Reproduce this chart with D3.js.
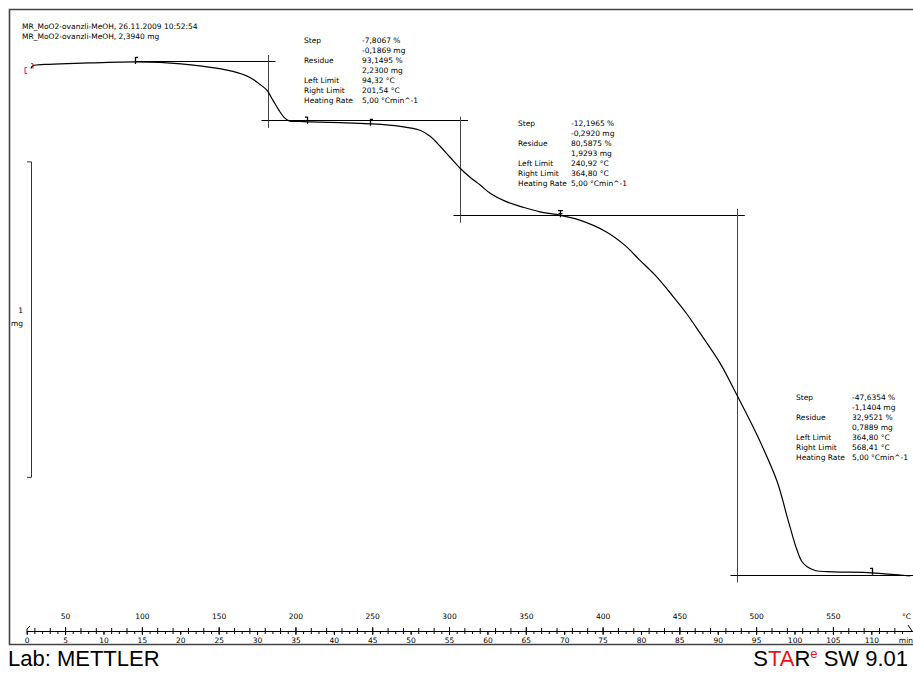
<!DOCTYPE html>
<html>
<head>
<meta charset="utf-8">
<script src="https://cdn.jsdelivr.net/npm/d3@7"></script>
<style>
  body { margin: 0; background: #fff; }
  svg text { font-family: "DejaVu Sans", sans-serif; }
</style>
</head>
<body>
<svg id="chart" width="913" height="673"></svg>
<script>
// --- data ---
const headerLines = [
  "MR_MoO2-ovanzli-MeOH, 26.11.2009 10:52:54",
  "MR_MoO2-ovanzli-MeOH, 2,3940 mg"
];

// sample mass (mg) against temperature (°C)
const curveTemp = [27.8, 29.1, 36.9, 46.7, 66.2, 95.5, 111.8, 137.9, 159.3, 170.4,
  176.9, 181.5, 185.4, 189.3, 192.6, 195.8, 203.0, 209.5, 229.0, 248.6,
  268.1, 281.1, 287.7, 294.2, 300.7, 307.2, 313.7, 320.3, 326.8, 336.5,
  348.1, 359.2, 370.9, 385.2, 402.8, 414.4, 424.2, 435.4, 445.7, 454.9,
  463.4, 476.4, 487.4, 500.5, 513.5, 520.7, 526.5, 529.8, 533.0, 538.4,
  550.1, 575.5, 600.3];
const curveMass = [2.3933, 2.4022, 2.4060, 2.4075, 2.4108, 2.4139, 2.4123, 2.4013, 2.3838, 2.3648,
  2.3427, 2.3237, 2.2921, 2.2604, 2.2383, 2.2272, 2.2256, 2.2240, 2.2215, 2.2177,
  2.2098, 2.1972, 2.1782, 2.1466, 2.1118, 2.0770, 2.0485, 2.0236, 1.9978, 1.9725,
  1.9535, 1.9386, 1.9297, 1.9123, 1.8743, 1.8332, 1.7857, 1.7319, 1.6718, 1.6148,
  1.5547, 1.4598, 1.3585, 1.2320, 1.0860, 0.9630, 0.8680, 0.8300, 0.8142, 0.8016,
  0.7974, 0.7943, 0.7842];

// step evaluations
const stepPct     = [-7.8067, -12.1965, -47.6354];
const stepMg      = [-0.1869, -0.2920, -1.1404];
const residuePct  = [93.1495, 80.5875, 32.9521];
const residueMg   = [2.2300, 1.9293, 0.7889];
const leftLimit   = [94.32, 240.92, 364.80];
const rightLimit  = [201.54, 364.80, 568.41];
const heatingRate = [5.00, 5.00, 5.00];
const stepMidTemp = [181.9, 307.2, 487.4];

// limit flags on the curve
const markerTemp = [95.5, 207.5, 248.6, 372.1, 575.5];
const markerKind = ["left", "right", "left", "both", "right"];

const minTicks = d3.range(0, 115, 5);
const tempTicks = d3.range(50, 600, 50);

// --- drawing ---
const svg = d3.select("#chart");
const W = 913, axisY = 631;

const tScale = d3.scaleLinear().domain([0, 115]).range([26.7, 909.7]);
const x = d3.scaleLinear().domain([25, 600]).range([26.7, 909.7]);
const y = d3.scaleLinear().domain([0.7889, 2.4169]).range([574.5, 61]);
const massAt = d3.scaleLinear().domain(curveTemp).range(curveMass);

const loc = d3.formatLocale({decimal: ",", thousands: ".", grouping: [3], currency: ["", ""], minus: "-"});
const f4 = loc.format(".4f"), f2 = loc.format(".2f");

// frame
svg.append("path")
  .attr("d", `M${W},9.5H9.5V644.5H${W}`)
  .attr("fill", "none").attr("stroke", "#444").attr("stroke-width", 1.6);

// header
svg.selectAll("text.head").data(headerLines).enter().append("text")
  .attr("class", "head")
  .attr("x", 22).attr("y", (d, i) => 29 + i * 10)
  .attr("font-size", 7.5).attr("fill", "#000")
  .text(d => d);

// scale bar, 1 mg
const barTop = 2.097;
svg.append("path")
  .attr("d", `M27,${y(barTop)}H31.5V${y(barTop - 1)}H27`)
  .attr("fill", "none").attr("stroke", "#333");
svg.append("text").attr("x", 23).attr("y", 313).attr("text-anchor", "end")
  .attr("font-size", 7.5).text("1");
svg.append("text").attr("x", 23).attr("y", 326).attr("text-anchor", "end")
  .attr("font-size", 7.5).text("mg");

// step construction lines
const lines = svg.append("g").attr("stroke-width", 1).attr("fill", "none");
stepMidTemp.forEach((t, i) => {
  const upper = residueMg[i] - stepMg[i];
  const xv = Math.round(x(t)) + 0.5;
  lines.append("line")
    .attr("x1", xv).attr("x2", xv)
    .attr("y1", y(upper) - 6).attr("y2", y(residueMg[i]) + 8)
    .attr("stroke", "#444");
  const xEnd = i < stepMidTemp.length - 1 ? x(stepMidTemp[i + 1]) + 8 : W;
  lines.append("line")
    .attr("x1", xv - 7).attr("x2", xEnd)
    .attr("y1", Math.round(y(residueMg[i])) + 0.5).attr("y2", Math.round(y(residueMg[i])) + 0.5)
    .attr("stroke", "#000");
  if (i === 0) {
    lines.append("line")
      .attr("x1", x(markerTemp[0])).attr("x2", xv + 7)
      .attr("y1", Math.round(y(upper)) + 0.5).attr("y2", Math.round(y(upper)) + 0.5)
      .attr("stroke", "#000");
  }
});

// result boxes
const boxPos = [[304, 362, 43], [518, 571, 126], [796, 852, 399.5]];
const rowLabels = ["Step", "", "Residue", "", "Left Limit", "Right Limit", "Heating Rate"];
stepPct.forEach((s, i) => {
  const vals = [
    f4(s) + " %", f4(stepMg[i]) + " mg",
    f4(residuePct[i]) + " %", f4(residueMg[i]) + " mg",
    f2(leftLimit[i]) + " °C", f2(rightLimit[i]) + " °C",
    f2(heatingRate[i]) + " °Cmin^-1"
  ];
  const [lx, vx, by] = boxPos[i];
  const g = svg.append("g").attr("font-size", 7.5).attr("fill", "#000");
  g.selectAll("text.l").data(rowLabels).enter().append("text")
    .attr("x", lx).attr("y", (d, k) => by + k * 10).text(d => d);
  g.selectAll("text.v").data(vals).enter().append("text")
    .attr("x", vx).attr("y", (d, k) => by + k * 10).text(d => d);
});

// curve
svg.append("path")
  .datum(curveTemp.map((t, i) => [t, curveMass[i]]))
  .attr("fill", "none").attr("stroke", "#000").attr("stroke-width", 1.2)
  .attr("d", d3.line().x(d => x(d[0])).y(d => y(d[1])).curve(d3.curveCatmullRom.alpha(0.5)));

// start bracket (red)
svg.append("path")
  .attr("d", `M27,${y(2.3933) - 1}H25V${y(2.3933) + 5}H27 M31,${y(2.4022) - 2}H33V${y(2.4022) + 3}`)
  .attr("fill", "none").attr("stroke", "#e02020").attr("stroke-width", 1);

// limit flags
markerTemp.forEach((t, i) => {
  const mx = Math.round(x(t)) + 0.5, my = y(massAt(t));
  let d = `M${mx},${my + 2}V${my - 5}`;
  if (markerKind[i] !== "right") d += `M${mx},${my - 4.5}h2.5`;
  if (markerKind[i] !== "left") d += `M${mx},${my - 4.5}h-2.5`;
  if (markerKind[i] === "both") d += `M${mx - 2},${my - 1.5}h4`;
  svg.append("path").attr("d", d).attr("fill", "none")
    .attr("stroke", "#000").attr("stroke-width", 1.3);
});

// x axis: °C above, min below
const axisG = svg.append("g");
axisG.append("path")
  .attr("d", `M27,${axisY + 0.5}L27,${axisY - 2}L30,${axisY - 5} M27,${axisY + 0.5}H${W} M908,${axisY - 6}L912,${axisY}`)
  .attr("fill", "none").attr("stroke", "#000");

const styleAxis = g => {
  g.select(".domain").remove();
  g.attr("font-family", null).attr("font-size", 7.5);
};
axisG.append("g").attr("transform", `translate(0,${axisY})`)
  .call(d3.axisBottom(tScale).tickValues(d3.range(0, 115, 1)).tickSize(3).tickFormat(""))
  .call(styleAxis);
axisG.append("g").attr("transform", `translate(0,${axisY})`)
  .call(d3.axisBottom(tScale).tickValues(minTicks).tickSize(4).tickPadding(3))
  .call(styleAxis);
axisG.append("g").attr("transform", `translate(0,${axisY})`)
  .call(d3.axisTop(x).tickValues(d3.range(30, 600, 10)).tickSize(3).tickFormat(""))
  .call(styleAxis);
axisG.append("g").attr("transform", `translate(0,${axisY})`)
  .call(d3.axisTop(x).tickValues(tempTicks).tickSize(4).tickPadding(8))
  .call(styleAxis);
axisG.append("text").attr("x", 911).attr("y", 619).attr("text-anchor", "end")
  .attr("font-size", 7.5).text("°C");
axisG.append("text").attr("x", 913).attr("y", 643).attr("text-anchor", "end")
  .attr("font-size", 7.5).text("min");

// footer
svg.append("text").attr("x", 8).attr("y", 666)
  .attr("font-size", 22).style("font-family", "'Liberation Sans', Arial, sans-serif")
  .text("Lab: METTLER");
const star = svg.append("text").attr("x", 908).attr("y", 666).attr("text-anchor", "end")
  .attr("font-size", 22).style("font-family", "'Liberation Sans', Arial, sans-serif");
star.append("tspan").text("S");
star.append("tspan").attr("fill", "#e8141c").text("TA");
star.append("tspan").text("R");
star.append("tspan").attr("fill", "#e8141c").attr("font-size", 13).attr("dy", -8).text("e");
star.append("tspan").attr("dy", 8).text(" SW 9.01");
</script>
</body>
</html>
